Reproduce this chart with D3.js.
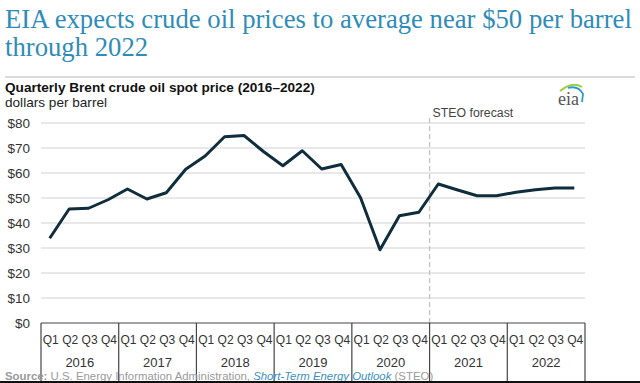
<!DOCTYPE html>
<html><head><meta charset="utf-8">
<script src="https://cdn.jsdelivr.net/npm/d3@7"></script>
<style>
body{margin:0;background:#fff;}
svg{display:block;}
text{font-family:"Liberation Sans",Arial,sans-serif;}
</style></head>
<body>
<svg id="chart" width="640" height="383"></svg>
<script>
const years = ["2016","2017","2018","2019","2020","2021","2022"];
const quarters = ["Q1","Q2","Q3","Q4"];
const prices = [33.9,45.6,45.9,49.3, 53.6,49.6,52.1,61.5, 66.8,74.5,75.0,68.6, 62.9,68.9,61.6,63.4, 50.1,29.3,42.9,44.3, 55.6,53.2,50.9,50.9, 52.3,53.3,54.0,54.0];
const yTicks = [0,10,20,30,40,50,60,70,80];
const forecastStart = "2021";

const svg = d3.select("#chart");
const plotLeft = 41, plotRight = 585, plotTop = 123, plotBottom = 323;

const periods = [];
years.forEach(yy => quarters.forEach(q => periods.push(yy + q)));

const x = d3.scaleBand().domain(periods).range([plotLeft, plotRight]).padding(0);
const xYear = d3.scaleBand().domain(years).range([plotLeft, plotRight]).padding(0);
const y = d3.scaleLinear().domain([0, 80]).range([plotBottom, plotTop]);

// Title
const title = svg.append("g").attr("fill", "#2f8cb8");
const t1 = title.append("text").attr("x", 5).attr("y", 28).style("font-size", "28px")
  .style("font-family", '"Liberation Serif",serif')
  .text("EIA expects crude oil prices to average near $50 per barrel");
const t2 = title.append("text").attr("x", 5).attr("y", 56).style("font-size", "28px")
  .style("font-family", '"Liberation Serif",serif')
  .text("through 2022");
const w1 = t1.node().getComputedTextLength();
const fs = 28 * 627 / w1;
t1.style("font-size", fs + "px");
t2.style("font-size", fs + "px");

svg.append("line").attr("x1", 5).attr("x2", 635).attr("y1", 77).attr("y2", 77)
  .attr("stroke", "#dcdcdc").attr("stroke-width", 2);

svg.append("text").attr("x", 5).attr("y", 92).attr("fill", "#111")
  .style("font-size", "13.6px").style("font-weight", "bold")
  .text("Quarterly Brent crude oil spot price (2016\u20132022)");
svg.append("text").attr("x", 5).attr("y", 107).attr("fill", "#222")
  .style("font-size", "13.6px").text("dollars per barrel");

// eia logo
const logo = svg.append("g").attr("transform", "translate(558,96)");
logo.append("path").attr("d", "M2,-5 Q14,-15 24,-9").attr("fill", "none")
  .attr("stroke", "#9acd4a").attr("stroke-width", 2);
logo.append("path").attr("d", "M10,-8 Q20,-11 25,-2 L24,6").attr("fill", "none")
  .attr("stroke", "#2d9bc6").attr("stroke-width", 1.8);
logo.append("text").attr("x", 0).attr("y", 9).attr("fill", "#555")
  .style("font-family", '"Liberation Serif",serif').style("font-size", "18px").text("eia");

// gridlines
svg.append("g").selectAll("line").data(yTicks.filter(d => d > 0)).join("line")
  .attr("x1", plotLeft).attr("x2", plotRight)
  .attr("y1", d => y(d)).attr("y2", d => y(d))
  .attr("stroke", "#e0e0e0").attr("stroke-width", 1.3);

// y axis labels
svg.append("g").selectAll("text").data(yTicks).join("text")
  .attr("x", 30).attr("y", d => y(d)).attr("dy", "0.35em")
  .attr("text-anchor", "end").attr("fill", "#333").style("font-size", "13.5px")
  .text(d => "$" + d);

// forecast dashed line
const fx = xYear(forecastStart);
svg.append("line").attr("x1", fx).attr("x2", fx).attr("y1", 118).attr("y2", plotBottom)
  .attr("stroke", "#c4c4c4").attr("stroke-width", 1.3).attr("stroke-dasharray", "5,3");
svg.append("text").attr("x", fx + 3).attr("y", 117).attr("fill", "#444")
  .style("font-size", "12.3px").text("STEO forecast");

// axis box
const ax = svg.append("g").attr("stroke", "#444").attr("stroke-width", 1.2);
ax.append("line").attr("x1", plotLeft).attr("x2", plotRight).attr("y1", plotBottom).attr("y2", plotBottom);
const bounds = years.map(yy => xYear(yy)).concat([plotRight]);
ax.selectAll("line.v").data(bounds).join("line").attr("class", "v")
  .attr("x1", d => d).attr("x2", d => d).attr("y1", plotBottom).attr("y2", 383);

svg.append("g").selectAll("text").data(periods).join("text")
  .attr("x", d => x(d) + x.bandwidth() / 2).attr("y", 344)
  .attr("text-anchor", "middle").attr("fill", "#333").style("font-size", "12px")
  .text(d => d.slice(4));
svg.append("g").selectAll("text").data(years).join("text")
  .attr("x", d => xYear(d) + xYear.bandwidth() / 2).attr("y", 367)
  .attr("text-anchor", "middle").attr("fill", "#333").style("font-size", "13px")
  .text(d => d);

// line
const line = d3.line().x((d, i) => x(periods[i]) + x.bandwidth() / 2 - 1).y(d => y(d));
svg.append("path").datum(prices).attr("d", line).attr("fill", "none")
  .attr("stroke", "#0f2d3c").attr("stroke-width", 3).attr("stroke-linejoin", "round");

// source
const src = svg.append("text").attr("x", 5).attr("y", 380).style("font-size", "11.4px").attr("fill", "#9a9a9a");
src.append("tspan").style("font-weight", "bold").text("Source: ");
src.append("tspan").text("U.S. Energy Information Administration, ");
src.append("tspan").style("font-style", "italic").attr("fill", "#3a8fc0").text("Short-Term Energy Outlook");
src.append("tspan").text(" (STEO)");

svg.append("rect").attr("x", 0).attr("y", 381).attr("width", 640).attr("height", 2).attr("fill", "#111");
</script>
</body></html>
